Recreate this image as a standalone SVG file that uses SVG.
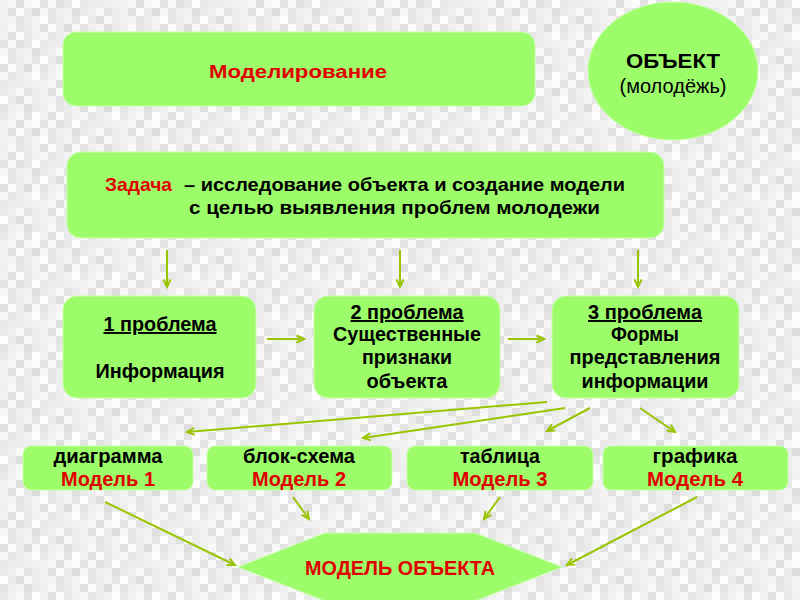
<svg xmlns="http://www.w3.org/2000/svg" width="800" height="600" viewBox="0 0 800 600">
<defs>
<pattern id="bg" width="40" height="40" patternUnits="userSpaceOnUse">
<rect width="40" height="40" fill="#eeeeee"/>
<rect x="0" y="0" width="8" height="8" fill="#e8e8e8"/><rect x="8" y="0" width="8" height="8" fill="#f6f6f6"/><rect x="16" y="0" width="8" height="8" fill="#e2e2e2"/><rect x="24" y="0" width="8" height="8" fill="#f0f0f0"/><rect x="32" y="0" width="8" height="8" fill="#fcfcfc"/>
<rect x="0" y="8" width="8" height="8" fill="#f2f2f2"/><rect x="8" y="8" width="8" height="8" fill="#e5e5e5"/><rect x="16" y="8" width="8" height="8" fill="#f9f9f9"/><rect x="24" y="8" width="8" height="8" fill="#eaeaea"/><rect x="32" y="8" width="8" height="8" fill="#dfdfdf"/>
<rect x="0" y="16" width="8" height="8" fill="#fdfdfd"/><rect x="8" y="16" width="8" height="8" fill="#ebebeb"/><rect x="16" y="16" width="8" height="8" fill="#e3e3e3"/><rect x="24" y="16" width="8" height="8" fill="#f5f5f5"/><rect x="32" y="16" width="8" height="8" fill="#ececec"/>
<rect x="0" y="24" width="8" height="8" fill="#e4e4e4"/><rect x="8" y="24" width="8" height="8" fill="#fafafa"/><rect x="16" y="24" width="8" height="8" fill="#eeeeee"/><rect x="24" y="24" width="8" height="8" fill="#dedede"/><rect x="32" y="24" width="8" height="8" fill="#f3f3f3"/>
<rect x="0" y="32" width="8" height="8" fill="#f1f1f1"/><rect x="8" y="32" width="8" height="8" fill="#e7e7e7"/><rect x="16" y="32" width="8" height="8" fill="#f8f8f8"/><rect x="24" y="32" width="8" height="8" fill="#e9e9e9"/><rect x="32" y="32" width="8" height="8" fill="#fefefe"/>
</pattern>
<pattern id="bg2" width="24" height="24" patternUnits="userSpaceOnUse">
<rect x="0" y="0" width="8" height="8" fill="#ffffff" opacity="0.4"/><rect x="16" y="0" width="8" height="8" fill="#d8d8d8" opacity="0.3"/>
<rect x="8" y="8" width="8" height="8" fill="#d8d8d8" opacity="0.3"/><rect x="16" y="8" width="8" height="8" fill="#ffffff" opacity="0.4"/>
<rect x="0" y="16" width="8" height="8" fill="#d8d8d8" opacity="0.3"/><rect x="8" y="16" width="8" height="8" fill="#ffffff" opacity="0.4"/>
</pattern>
<marker id="ah" markerUnits="userSpaceOnUse" markerWidth="12" markerHeight="12" refX="9" refY="5" orient="auto" viewBox="0 0 12 10">
<path d="M1.5,1.5 L9,5 L1.5,8.5" fill="none" stroke="#99c400" stroke-width="2"/>
</marker>
<style>
.box{fill:#9cfc6a;stroke:#c8ffa8;stroke-width:1}
.t{font-family:"Liberation Sans",Arial,sans-serif;font-weight:bold;fill:#000}
.r{fill:#e00000}
.m{text-anchor:middle}
.u{text-decoration:underline}
.c{stroke:#99c400;stroke-width:2;fill:none;marker-end:url(#ah)}
</style>
</defs>
<rect width="800" height="600" fill="url(#bg)"/>
<rect width="800" height="600" fill="url(#bg2)"/>

<g id="modelirovanie">
<rect class="box" x="63" y="32" width="472" height="74" rx="13"/>
<text class="t r m" x="298" y="78" font-size="18" textLength="178" lengthAdjust="spacingAndGlyphs">Моделирование</text>
</g>

<g id="obekt">
<ellipse class="box" cx="673" cy="71" rx="85" ry="69"/>
<text class="t m" x="673" y="68" font-size="20" textLength="94" lengthAdjust="spacingAndGlyphs">ОБЪЕКТ</text>
<text class="m" x="673" y="93" font-size="20" font-family="Liberation Sans, Arial, sans-serif" textLength="107" lengthAdjust="spacingAndGlyphs">(молодёжь)</text>
</g>

<g id="zadacha">
<rect class="box" x="67" y="152" width="597" height="86" rx="14"/>
<text class="t r" x="105" y="191" font-size="18.5" textLength="67" lengthAdjust="spacingAndGlyphs">Задача</text>
<text class="t" x="184" y="191" font-size="18.5" textLength="441" lengthAdjust="spacingAndGlyphs">– исследование объекта и создание модели</text>
<text class="t" x="189" y="214" font-size="18.5" textLength="411" lengthAdjust="spacingAndGlyphs">с целью выявления проблем молодежи</text>
</g>

<g id="problema1">
<rect class="box" x="63" y="296" width="193" height="102" rx="14"/>
<text class="t m u" x="160" y="331" font-size="19.5" textLength="113" lengthAdjust="spacingAndGlyphs">1 проблема</text>
<text class="t m" x="160" y="378" font-size="19.5" textLength="129" lengthAdjust="spacingAndGlyphs">Информация</text>
</g>

<g id="problema2">
<rect class="box" x="314" y="296" width="186" height="102" rx="14"/>
<text class="t m u" x="407" y="319" font-size="19.5" textLength="113" lengthAdjust="spacingAndGlyphs">2 проблема</text>
<text class="t m" x="407" y="341" font-size="19.5" textLength="148" lengthAdjust="spacingAndGlyphs">Существенные</text>
<text class="t m" x="407" y="364" font-size="19.5" textLength="90" lengthAdjust="spacingAndGlyphs">признаки</text>
<text class="t m" x="407" y="388" font-size="19.5" textLength="81" lengthAdjust="spacingAndGlyphs">объекта</text>
</g>

<g id="problema3">
<rect class="box" x="552" y="296" width="187" height="102" rx="14"/>
<text class="t m u" x="645" y="319" font-size="19.5" textLength="114" lengthAdjust="spacingAndGlyphs">3 проблема</text>
<text class="t m" x="645" y="341" font-size="19.5" textLength="68" lengthAdjust="spacingAndGlyphs">Формы</text>
<text class="t m" x="645" y="364" font-size="19.5" textLength="151" lengthAdjust="spacingAndGlyphs">представления</text>
<text class="t m" x="645" y="388" font-size="19.5" textLength="127" lengthAdjust="spacingAndGlyphs">информации</text>
</g>

<g id="model1">
<rect class="box" x="23" y="446" width="170" height="44" rx="8"/>
<text class="t m" x="108" y="463" font-size="19.5" textLength="109" lengthAdjust="spacingAndGlyphs">диаграмма</text>
<text class="t r m" x="108" y="486" font-size="19.5" textLength="94" lengthAdjust="spacingAndGlyphs">Модель 1</text>
</g>

<g id="model2">
<rect class="box" x="207" y="446" width="185" height="44" rx="8"/>
<text class="t m" x="299" y="463" font-size="19.5" textLength="112" lengthAdjust="spacingAndGlyphs">блок-схема</text>
<text class="t r m" x="299" y="486" font-size="19.5" textLength="94" lengthAdjust="spacingAndGlyphs">Модель 2</text>
</g>

<g id="model3">
<rect class="box" x="407" y="446" width="186" height="44" rx="8"/>
<text class="t m" x="500" y="463" font-size="19.5" textLength="80" lengthAdjust="spacingAndGlyphs">таблица</text>
<text class="t r m" x="500" y="486" font-size="19.5" textLength="95" lengthAdjust="spacingAndGlyphs">Модель 3</text>
</g>

<g id="model4">
<rect class="box" x="603" y="446" width="185" height="44" rx="8"/>
<text class="t m" x="695" y="463" font-size="19.5" textLength="85" lengthAdjust="spacingAndGlyphs">графика</text>
<text class="t r m" x="695" y="486" font-size="19.5" textLength="96" lengthAdjust="spacingAndGlyphs">Модель 4</text>
</g>

<g id="model-obekta">
<polygon class="box" points="238,567 325,533 475,533 562,567 475,601 325,601"/>
<text class="t r m" x="400" y="575" font-size="20.5" textLength="190" lengthAdjust="spacingAndGlyphs">МОДЕЛЬ ОБЪЕКТА</text>
</g>

<g id="connectors">
<line class="c" x1="167" y1="250" x2="167" y2="287"/>
<line class="c" x1="400" y1="250" x2="400" y2="287"/>
<line class="c" x1="638" y1="250" x2="638" y2="287"/>
<line class="c" x1="267" y1="339" x2="304" y2="339"/>
<line class="c" x1="508" y1="339" x2="544" y2="339"/>
<line class="c" x1="547" y1="402" x2="187" y2="432"/>
<line class="c" x1="565" y1="408" x2="363" y2="438"/>
<line class="c" x1="590" y1="408" x2="547" y2="431"/>
<line class="c" x1="640" y1="408" x2="675" y2="432"/>
<line class="c" x1="105" y1="502" x2="235" y2="565"/>
<line class="c" x1="293" y1="497" x2="309" y2="519"/>
<line class="c" x1="500" y1="497" x2="484" y2="519"/>
<line class="c" x1="697" y1="497" x2="567" y2="565"/>
</g>
</svg>
